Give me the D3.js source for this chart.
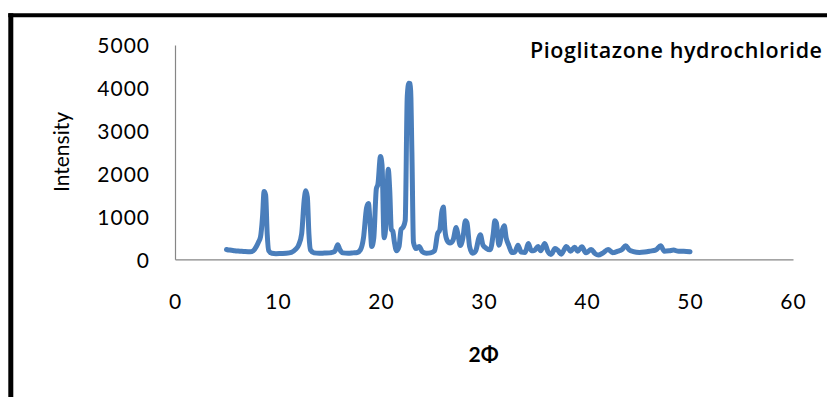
<!DOCTYPE html>
<html>
<head>
<meta charset="utf-8">
<script src="https://cdn.jsdelivr.net/npm/d3@7"></script>
<style>
  html, body { margin: 0; padding: 0; background: #fff; }
  svg { display: block; }
  text { font-family: Lato, "Open Sans", sans-serif; fill: #000; }
</style>
</head>
<body>
<svg id="chart" width="827" height="397"></svg>
<script>
// Powder X-ray diffraction pattern, 2θ (degrees) vs. intensity (counts)
const twoTheta = [
  5.0, 5.3, 5.8, 6.3, 6.8, 7.3, 7.6, 7.9, 8.1, 8.3, 8.5, 8.65, 8.8, 8.95, 9.1, 9.4, 9.8,
  10.3, 10.8, 11.3, 11.7, 12.0, 12.3, 12.55, 12.7, 12.85, 13.0, 13.15, 13.5, 14.0, 14.5,
  15.0, 15.5, 15.8, 16.0, 16.3, 16.8, 17.3, 17.7, 18.0, 18.3, 18.6, 18.78, 18.95, 19.1,
  19.3, 19.55, 19.7, 19.95, 20.1, 20.3, 20.5, 20.7, 20.85, 21.0, 21.15, 21.3, 21.5, 21.75,
  21.95, 22.15, 22.35, 22.55, 22.7, 22.85, 23.0, 23.15, 23.4, 23.7, 24.0, 24.4, 24.8, 25.2,
  25.5, 25.7, 25.9, 26.05, 26.2, 26.4, 26.7, 27.0, 27.3, 27.45, 27.7, 27.95, 28.2, 28.35,
  28.6, 28.9, 29.2, 29.5, 29.65, 29.9, 30.2, 30.6, 30.9, 31.05, 31.2, 31.45, 31.8, 31.97,
  32.15, 32.4, 32.7, 33.0, 33.3, 33.6, 34.0, 34.3, 34.6, 34.9, 35.25, 35.5, 35.9, 36.2,
  36.5, 36.9, 37.2, 37.5, 38.0, 38.4, 38.8, 39.1, 39.5, 39.9, 40.4, 40.8, 41.1, 41.5,
  42.05, 42.5, 43.0, 43.4, 43.75, 44.1, 44.5, 45.1, 45.6, 46.1, 46.7, 47.15, 47.5, 48.0,
  48.4, 48.9, 49.4, 50.0
];
const intensity = [
  230, 215, 200, 190, 180, 175, 200, 300, 400, 520, 1000, 1580, 1500, 600, 200, 140, 130,
  135, 140, 160, 230, 330, 600, 1400, 1600, 1450, 600, 220, 150, 140, 145,
  150, 180, 340, 230, 150, 140, 150, 160, 220, 500, 1200, 1300, 800, 300,
  500, 1650, 1750, 2400, 2200, 500, 900, 2100, 1600, 700, 650, 400, 200, 300,
  700, 750, 900, 3800, 4110, 4100, 2500, 400, 250, 300, 180, 140, 150, 200,
  600, 680, 1100, 1220, 700, 450, 380, 450, 740, 600, 320, 500, 900, 850,
  300, 140, 200, 500, 570, 330, 260, 220, 600, 900, 850, 330, 700, 780,
  500, 330, 160, 170, 330, 170, 160, 370, 200, 210, 300, 200, 370, 180,
  110, 250, 200, 120, 300, 190, 280, 190, 290, 150, 230, 130, 100, 140,
  230, 155, 190, 230, 315, 220, 180, 160, 170, 190, 220, 315, 190, 200,
  215, 185, 190, 175
];
const xTicks = [0, 10, 20, 30, 40, 50, 60];
const yTicks = [0, 1000, 2000, 3000, 4000, 5000];
const titleText = "Pioglitazone hydrochloride";
const xLabel = "2Φ";
const yLabel = "Intensity";

const svg = d3.select("#chart");

const x = d3.scaleLinear().domain([0, 60]).range([175, 793]);
const y = d3.scaleLinear().domain([0, 5000]).range([259.3, 45]);

// outer frame (top and left edges)
svg.append("line").attr("x1", 8.3).attr("x2", 827).attr("y1", 15.3).attr("y2", 15.3)
  .attr("stroke", "#000").attr("stroke-width", 4);
svg.append("line").attr("x1", 10.8).attr("x2", 10.8).attr("y1", 13.3).attr("y2", 397)
  .attr("stroke", "#000").attr("stroke-width", 5);

// axis lines without tick marks
const axisColor = "#868686";
const xAxis = d3.axisBottom(x).tickValues(xTicks).tickSize(0).tickPadding(0).tickFormat(d3.format("d"));
const yAxis = d3.axisLeft(y).tickValues(yTicks).tickSize(0).tickPadding(0).tickFormat(d3.format("d"));

const gx = svg.append("g").attr("transform", `translate(0,${y(0)})`).call(xAxis);
gx.select(".domain").attr("stroke", axisColor).attr("stroke-width", 1.2);
gx.selectAll(".tick text")
  .attr("y", 302 - y(0)).attr("dy", "0.35em")
  .style("font-family", "Lato, 'Open Sans', sans-serif")
  .style("font-size", "21px").style("letter-spacing", "1px");

const gy = svg.append("g").attr("transform", `translate(${x(0)},0)`).call(yAxis);
gy.select(".domain").attr("stroke", axisColor).attr("stroke-width", 1.2);
gy.selectAll(".tick text")
  .attr("x", 150 - x(0)).attr("dy", "0.38em")
  .style("font-family", "Lato, 'Open Sans', sans-serif")
  .style("font-size", "21px").style("letter-spacing", "1px");

// diffraction trace
const points = twoTheta.map((t, i) => [t, intensity[i]]);
const line = d3.line()
  .x(d => x(d[0]))
  .y(d => y(d[1]))
  .curve(d3.curveMonotoneX);

svg.append("path")
  .datum(points)
  .attr("d", line)
  .attr("fill", "none")
  .attr("stroke", "#4a7ebb")
  .attr("stroke-width", 5)
  .attr("stroke-linejoin", "round")
  .attr("stroke-linecap", "round");

// title
svg.append("text")
  .attr("x", 530).attr("y", 57.5)
  .attr("textLength", 292).attr("lengthAdjust", "spacing")
  .style("font-family", "'Open Sans', Lato, sans-serif")
  .style("font-size", "21.5px").style("font-weight", 600)
  .text(titleText);

// axis titles
svg.append("text")
  .attr("x", 483.5).attr("y", 355).attr("dy", "0.35em")
  .attr("text-anchor", "middle")
  .style("font-size", "21px").style("font-weight", 700)
  .text(xLabel);

svg.append("text")
  .attr("transform", "translate(62,152) rotate(-90)")
  .attr("text-anchor", "middle").attr("dy", "0.35em")
  .style("font-size", "21px")
  .text(yLabel);
</script>
</body>
</html>
